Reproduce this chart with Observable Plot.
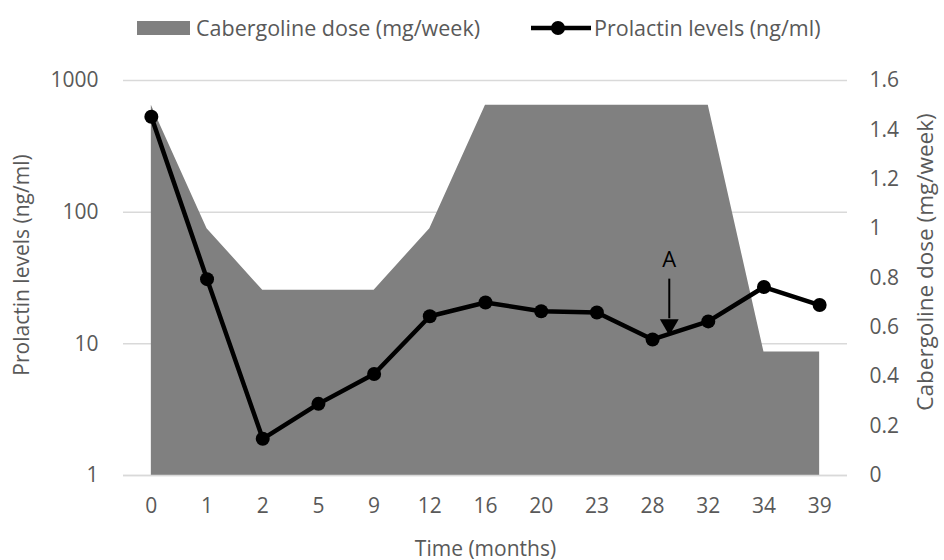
<!DOCTYPE html>
<html>
<head>
<meta charset="utf-8">
<script src="https://cdn.jsdelivr.net/npm/d3@7"></script>
<script src="https://cdn.jsdelivr.net/npm/@observablehq/plot@0.6"></script>
<style>
  body { margin: 0; background: #fff; font-family: "Open Sans", sans-serif; }
  #wrap { width: 944px; height: 560px; position: relative; overflow: hidden; }
  #legend { position: relative; height: 55px; color: #595959; font-size: 21.5px; }
  .item { position: absolute; top: 13px; display: flex; align-items: center; white-space: nowrap; }
  .sw { width: 53px; height: 14px; background: #808080; margin-right: 6px; }
</style>
</head>
<body>
<div id="wrap">
  <div id="legend">
    <div class="item" style="left:137px"><div class="sw"></div><span>Cabergoline dose (mg/week)</span></div>
    <div class="item" style="left:530px"><svg width="62" height="20" style="margin-right:2px"><line x1="1" y1="10" x2="61" y2="10" stroke="#000" stroke-width="4.5"/><circle cx="28" cy="10" r="7" fill="#000"/></svg><span>Prolactin levels (ng/ml)</span></div>
  </div>
  <div id="chart"></div>
</div>
<script>
const months = ["0","1","2","5","9","12","16","20","23","28","32","34","39"];
const prolactin = [530, 31, 1.9, 3.5, 5.9, 16.2, 20.6, 17.7, 17.3, 10.8, 14.8, 27, 19.7];
const dose = [1.5, 1.0, 0.75, 0.75, 0.75, 1.0, 1.5, 1.5, 1.5, 1.5, 1.5, 0.5, 0.5];
const leftTicks = [1, 10, 100, 1000];
const doseTicks = [0, 0.2, 0.4, 0.6, 0.8, 1, 1.2, 1.4, 1.6];
const doseMax = 1.6;
const annot = {label: "A", pos: 9.3, textAt: 43, top: 31, tip: 15.5, head: 14};
const leftTitle = "Prolactin levels (ng/ml)";
const rightTitle = "Cabergoline dose (mg/week)";
const xTitle = "Time (months)";

const toLog = d => Math.pow(10, 3 * d / doseMax);

const rows = months.map((m, i) => ({i, m, p: prolactin[i], d: toLog(dose[i])}));
const txt = "#595959";
const fs = 21;

const plot = Plot.plot({
  width: 944,
  height: 505,
  marginTop: 25,
  marginBottom: 85,
  marginLeft: 123,
  marginRight: 97,
  style: {fontFamily: "Open Sans, sans-serif", fontSize: fs + "px", color: txt, background: "#fff"},
  x: {type: "linear", domain: [-0.5, months.length - 0.5]},
  y: {type: "log", domain: [1, 1000]},
  marks: [
    Plot.gridY(leftTicks, {stroke: "#d9d9d9", strokeOpacity: 1, strokeWidth: 1.5}),
    Plot.areaY(rows, {x: "i", y1: 1, y2: "d", fill: "#808080", curve: "linear"}),
    Plot.ruleY([1], {stroke: "#d9d9d9", strokeWidth: 1.5}),
    Plot.line(rows, {x: "i", y: "p", stroke: "#000", strokeWidth: 4.5, curve: "linear"}),
    Plot.dot(rows, {x: "i", y: "p", r: 7, fill: "#000"}),
    Plot.ruleX([annot], {x: "pos", y1: "top", y2: "tip", stroke: "#000", strokeWidth: 2}),
    Plot.dot([annot], {x: "pos", y: "head", symbol: "triangle", rotate: 180, r: 7, fill: "#000"}),
    Plot.text([annot], {x: "pos", y: "textAt", text: "label", fill: "#000", fontSize: 22}),
    Plot.axisX(d3.range(months.length), {
      tickSize: 0, tickPadding: 23, tickFormat: i => months[i],
      label: xTitle, labelAnchor: "center", labelArrow: "none", labelOffset: 80, fontSize: fs
    }),
    Plot.axisY(leftTicks, {
      anchor: "left", tickSize: 0, tickPadding: 25, tickFormat: d => String(d), label: null
    }),
    Plot.text([leftTitle], {
      frameAnchor: "left", text: d => d, rotate: -90, textAnchor: "middle",
      dx: -101, dy: -13, fill: txt, fontSize: fs
    }),
    Plot.text(doseTicks, {
      y: d => toLog(d), text: d => String(d), frameAnchor: "right",
      textAnchor: "start", dx: 22, fill: txt, fontSize: fs
    }),
    Plot.text([rightTitle], {
      frameAnchor: "right", text: d => d, rotate: -90, textAnchor: "middle",
      dx: 78, dy: -16, fill: txt, fontSize: 22.5
    })
  ]
});
document.getElementById("chart").appendChild(plot);
</script>
</body>
</html>
